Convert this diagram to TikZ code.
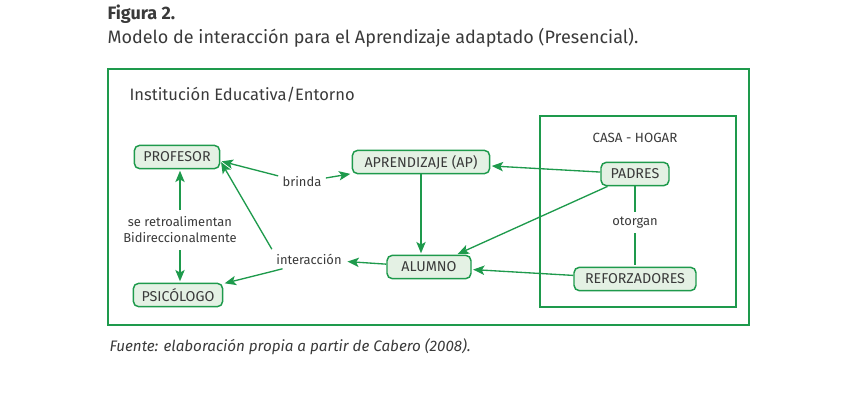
\documentclass[tikz,border=0pt]{standalone}
\usepackage{fontspec}
\setmainfont{Fira Sans}
\usepackage{tikz}
\usetikzlibrary{arrows.meta}
\definecolor{verde}{HTML}{1E9A4C}
\definecolor{verdeclaro}{HTML}{E4F1E4}
\definecolor{texto}{HTML}{3A3A3A}

\begin{document}
\begin{tikzpicture}[x=0.75pt,y=-0.75pt,->,>={Stealth[length=8.5pt,width=7pt,inset=2pt]},shorten >=1pt,
                    thick,text=texto,
                    main node/.style={rectangle,rounded corners=4pt,draw=verde,fill=verdeclaro,
                      line width=1.1pt,minimum height=17.5pt,inner xsep=6pt,
                      font=\fontsize{10.7}{12}\selectfont},
                    label node/.style={inner sep=3pt,font=\fontsize{9.7}{12}\selectfont},
                    plain text/.style={inner sep=0pt},
                    every edge/.style={draw=verde,line width=1pt}]
\useasboundingbox (0,0) rectangle (868,419);

\node[plain text,anchor=base west,font=\fontsize{13.5}{15}\selectfont\bfseries] (fig) at (107,19.5) {Figura 2.};
\node[plain text,anchor=base west,font=\fontsize{13.5}{15}\selectfont] (sub) at (107,43.5) {Modelo de interacción para el Aprendizaje adaptado (Presencial).};

\draw [-,color=verde,line width=1pt](108,69) rectangle (749,325);
\draw [-,color=verde,line width=1pt](540,116) rectangle (736,307);
\node[plain text,anchor=base west,font=\fontsize{12.4}{14}\selectfont] (inst) at (129,100.5) {Institución Educativa/Entorno};
\node[plain text,anchor=base,font=\fontsize{10}{12}\selectfont] (casa) at (635,142) {CASA - HOGAR};

  \node[main node,minimum width=64pt] (prof) at (177,157) {PROFESOR};
  \node[main node,minimum width=67pt] (psic) at (178,295) {PSICÓLOGO};
  \node[main node,minimum width=103pt] (ap) at (421,162) {APRENDIZAJE (AP)};
  \node[main node,minimum width=63pt] (alumno) at (429,267) {ALUMNO};
  \node[main node,minimum width=51pt] (padres) at (635,174) {PADRES};
  \node[main node,minimum width=91.5pt] (refo) at (635,279) {REFORZADORES};

  \node[label node] (brinda) at (302,182) {brinda};
  \node[label node] (inter) at (309,259) {interacción};
  \node[label node] (otorgan) at (635,223) {otorgan};
  \node[label node,align=center,inner sep=5pt] (retro) at (180,230) {se retroalimentan\\Bidireccionalmente};

  \path

    (brinda) edge ([yshift=-3pt]prof.east)
    (brinda) edge (ap)
    (inter.north west) edge ([yshift=-3pt]prof.east)
    ([xshift=8pt]inter.south west) edge (psic)
    (alumno) edge (inter)
    (retro) edge (retro |- prof.south)
    (retro) edge (retro |- psic.north)
    (ap.south) edge (ap.south |- alumno.north)

    (padres) edge (ap)
    (padres) edge (alumno)
    (refo) edge (alumno)
    (padres) edge [-] (otorgan)
    (otorgan) edge [-] (refo)
;

\node[plain text,anchor=base west,font=\fontsize{11.4}{13}\selectfont\itshape] (fuente) at (109,351) {Fuente: elaboración propia a partir de Cabero (2008).};
\end{tikzpicture}
\end{document}
